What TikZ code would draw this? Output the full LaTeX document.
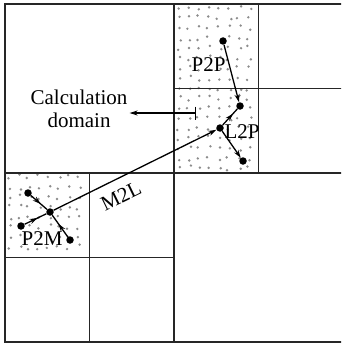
\documentclass[tikz,border=0pt]{standalone}
\usepackage{fontspec}
\setmainfont{Liberation Serif}
\usetikzlibrary{arrows.meta,decorations.markings}
\definecolor{dotc}{gray}{0.55}
\begin{document}
\begin{tikzpicture}[x=1pt,y=-1pt,
  gridline/.style={line width=1.7pt,black!85},
  particle/.style={circle,fill=black,inner sep=0pt,minimum size=7.5pt},
  conn/.style={line width=1.3pt},
  endarrow/.style={conn,-{Stealth[length=8pt,width=5pt]}},
  midarrow/.style={conn,postaction={decorate},decoration={markings,mark=at position #1 with {\arrow{Stealth[length=8pt,width=5pt]}}}},
  lab/.style={font=\fontsize{21}{23}\selectfont,inner sep=0pt}]
\clip (0,0) rectangle (341,345);
% dotted cells
\pgfmathsetseed{7}
\foreach \x in {179,189,...,256} \foreach \y in {8,18,...,170} {
  \pgfmathsetmacro\dx{2.5*rand}\pgfmathsetmacro\dy{2.5*rand}
  \fill[dotc] (\x+\dx,\y+\dy) circle (1.35pt);
}
\foreach \x in {9,19,...,86} \foreach \y in {177,187,...,254} {
  \pgfmathsetmacro\dx{2.5*rand}\pgfmathsetmacro\dy{2.5*rand}
  \fill[dotc] (\x+\dx,\y+\dy) circle (1.35pt);
}
% grid
\draw[gridline] (5,4) rectangle (343,342);
\draw[gridline] (174,4) -- (174,342);
\draw[gridline] (5,173) -- (343,173);
\draw[gridline] (258.5,4) -- (258.5,173);
\draw[gridline] (174,88.5) -- (343,88.5);
\draw[gridline] (89.5,173) -- (89.5,342);
\draw[gridline] (5,257.5) -- (174,257.5);
% particles
\node[particle] (p0) at (223,41) {};
\node[particle] (l1) at (240,106) {};
\node[particle] (l) at (220,128) {};
\node[particle] (l2) at (243,161) {};
\node[particle] (m) at (50,212) {};
\node[particle] (a1) at (28,193) {};
\node[particle] (a2) at (21,226) {};
\node[particle] (a3) at (70,240) {};
% connectors
\draw[endarrow] (p0) -- (l1);
\draw[midarrow=0.7] (l) -- (l1);
\draw[endarrow] (l) -- (l2);
\draw[endarrow] (m) -- (l);
\draw[midarrow=0.6] (a1) -- (m);
\draw[midarrow=0.6] (a2) -- (m);
\draw[midarrow=0.6] (a3) -- (m);
% labels
\node[lab] (tp2p) at (208.5,65) {P2P};
\node[lab] (tl2p) at (242,131.5) {L2P};
\node[lab] (tp2m) at (42,238.5) {P2M};
\node[lab,rotate=26] (tm2l) at (121,196) {M2L};
\node[lab,align=center,inner sep=2pt] (calc) at (79,109) {Calculation\\domain};
\coordinate (barpt) at (196,113);
\draw[conn,{Bar[width=13pt]}-{Stealth[length=8pt,width=5pt]}] (barpt) -- (calc.east |- barpt);
\end{tikzpicture}
\end{document}
